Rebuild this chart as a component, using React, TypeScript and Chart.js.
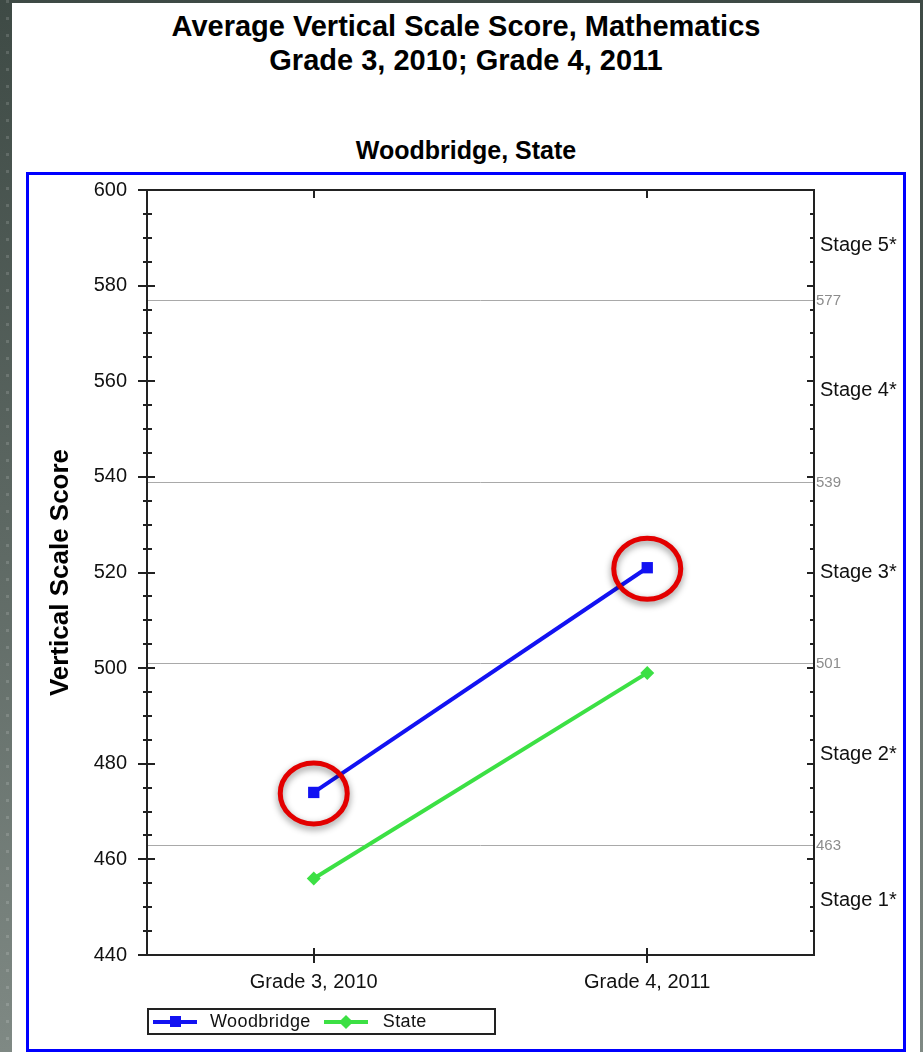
import React, { useEffect, useRef } from "react";
import { Chart, registerables } from "chart.js";

Chart.register(...registerables);

// ---------- data ----------
const categories = ["Grade 3, 2010", "Grade 4, 2011"];
const seriesNames = ["Woodbridge", "State"];
const woodbridgeScores = [474, 521];
const stateScores = [456, 499];
const highlightedPoints = [0, 1]; // Woodbridge points circled in red
const cutScores = [463, 501, 539, 577];
const stageLabels = ["Stage 1*", "Stage 2*", "Stage 3*", "Stage 4*", "Stage 5*"];
const yMin = 440;
const yMax = 600;
const yStep = 20;
const yMinorStep = 5;
const titleLines = ["Average Vertical Scale Score, Mathematics", "Grade 3, 2010; Grade 4, 2011"];
const subtitleText = "Woodbridge, State";
const yAxisTitle = "Vertical Scale Score";

// ---------- styles ----------
const FONT = "'Liberation Sans', Arial, Helvetica, sans-serif";
const BLUE = "#1212f2";
const GREEN = "#3ce044";
const seriesColors = [BLUE, GREEN];
const seriesMarkers = ["rect", "rectRot"];

const decorPlugin = {
  id: "decor",
  beforeDatasetsDraw(chart: any) {
    const { ctx, chartArea: a, scales } = chart;
    const y = scales.y;
    ctx.save();
    ctx.strokeStyle = "#a9a9a9";
    ctx.lineWidth = 1;
    cutScores.forEach((v) => {
      const py = Math.round(y.getPixelForValue(v)) + 0.5;
      ctx.beginPath();
      ctx.moveTo(a.left, py);
      ctx.lineTo(a.right, py);
      ctx.stroke();
    });
    ctx.restore();
  },
  afterDatasetsDraw(chart: any) {
    const { ctx, chartArea: a, scales } = chart;
    const y = scales.y;
    const x = scales.x;
    ctx.save();
    // frame
    ctx.strokeStyle = "#222";
    ctx.lineWidth = 2;
    ctx.strokeRect(a.left, a.top, a.right - a.left, a.bottom - a.top);
    // y ticks (left crossing, right inward)
    ctx.lineWidth = 2;
    for (let v = yMin; v <= yMax; v += yMinorStep) {
      const major = (v - yMin) % yStep === 0;
      const py = Math.round(y.getPixelForValue(v));
      ctx.beginPath();
      ctx.moveTo(a.left - (major ? 9 : 4), py);
      ctx.lineTo(a.left + (major ? 8 : 5), py);
      ctx.moveTo(a.right - (major ? 7 : 4), py);
      ctx.lineTo(a.right, py);
      ctx.stroke();
    }
    // x ticks at categories
    categories.forEach((_, i) => {
      const px = Math.round(x.getPixelForValue(i));
      ctx.beginPath();
      ctx.moveTo(px, a.bottom - 7);
      ctx.lineTo(px, a.bottom + 8);
      ctx.moveTo(px, a.top);
      ctx.lineTo(px, a.top + 8);
      ctx.stroke();
    });
    // cut score labels
    ctx.textBaseline = "middle";
    ctx.textAlign = "left";
    ctx.fillStyle = "#8c8c8c";
    ctx.font = `15px ${FONT}`;
    cutScores.forEach((v) => {
      ctx.fillText(String(v), a.right + 2, y.getPixelForValue(v) + 1);
    });
    // stage labels (centred in each band)
    const bounds = [yMin, ...cutScores, yMax];
    ctx.fillStyle = "#111";
    ctx.font = `20px ${FONT}`;
    stageLabels.forEach((s, i) => {
      const mid = (bounds[i] + bounds[i + 1]) / 2;
      ctx.fillText(s, a.right + 6, y.getPixelForValue(mid));
    });
    ctx.restore();
  },
  afterDraw(chart: any) {
    const { ctx } = chart;
    const meta = chart.getDatasetMeta(0);
    ctx.save();
    highlightedPoints.forEach((i) => {
      const el = meta.data[i];
      if (!el) return;
      ctx.save();
      ctx.shadowColor = "rgba(0,0,0,0.45)";
      ctx.shadowBlur = 7;
      ctx.shadowOffsetX = 0;
      ctx.shadowOffsetY = 3;
      ctx.strokeStyle = "#e30000";
      ctx.lineWidth = 5;
      ctx.beginPath();
      ctx.ellipse(el.x, el.y + 1, 33.5, 30.5, 0, 0, Math.PI * 2);
      ctx.stroke();
      ctx.restore();
    });
    ctx.restore();
  },
};

function LegendSwatch({ color, marker }: { color: string; marker: string }) {
  return (
    <div style={{ position: "relative", width: 44, height: 14, flex: "0 0 44px" }}>
      <div style={{ position: "absolute", left: 0, right: 0, top: 5, height: 4, background: color }} />
      {marker === "rect" ? (
        <div style={{ position: "absolute", left: 17, top: 1, width: 11, height: 11, background: color }} />
      ) : (
        <div
          style={{
            position: "absolute",
            left: 17,
            top: 2,
            width: 10,
            height: 10,
            background: color,
            transform: "rotate(45deg)",
          }}
        />
      )}
    </div>
  );
}

export default function App() {
  const canvasRef = useRef<HTMLCanvasElement | null>(null);

  useEffect(() => {
    if (!canvasRef.current) return;
    Chart.defaults.font.family = FONT;
    const datasets = [woodbridgeScores, stateScores].map((data, i) => ({
      label: seriesNames[i],
      data,
      borderColor: seriesColors[i],
      backgroundColor: seriesColors[i],
      borderWidth: 4,
      pointStyle: seriesMarkers[i] as any,
      pointRadius: i === 0 ? 8 : 7,
      pointBorderWidth: 0,
      pointBackgroundColor: seriesColors[i],
      tension: 0,
      fill: false,
    }));
    const chart = new Chart(canvasRef.current, {
      type: "line",
      data: { labels: categories, datasets },
      options: {
        animation: false,
        responsive: false,
        devicePixelRatio: 1,
        events: [],
        layout: { padding: { left: 30, top: 190, right: 109, bottom: 57 } },
        plugins: {
          legend: { display: false },
          tooltip: { enabled: false },
          title: { display: false },
        },
        scales: {
          x: {
            type: "category",
            offset: true,
            grid: { display: false, drawTicks: false },
            border: { display: false },
            ticks: { color: "#111", font: { size: 20 }, padding: 15, maxRotation: 0 },
            afterFit: (s: any) => {
              s.height = 40;
            },
          },
          y: {
            min: yMin,
            max: yMax,
            grid: { display: false, drawTicks: false },
            border: { display: false },
            ticks: { stepSize: yStep, color: "#111", font: { size: 20 }, padding: 20 },
            title: {
              display: true,
              text: yAxisTitle,
              color: "#000",
              font: { size: 26, weight: "bold" },
              padding: { top: 15, bottom: 0 },
            },
            afterFit: (s: any) => {
              s.width = 117;
            },
          },
        },
      },
      plugins: [decorPlugin],
    });
    return () => chart.destroy();
  }, []);

  return (
    <div
      style={{
        position: "fixed",
        left: 0,
        top: 0,
        width: 923,
        height: 1052,
        overflow: "hidden",
        background: "linear-gradient(to bottom, #3e4a45 0%, #5d6863 50%, #7f8984 100%)",
        fontFamily: FONT,
      }}
    >
      <div
        style={{
          position: "absolute",
          left: 6,
          top: 0,
          width: 3,
          height: 1052,
          background:
            "repeating-linear-gradient(to bottom, rgba(255,255,255,0.14) 0px, rgba(255,255,255,0.14) 3px, transparent 3px, transparent 17px)",
        }}
      />
      <div style={{ position: "absolute", left: 12, top: 3, width: 908, height: 1060, background: "#fff" }} />
      <div
        style={{
          position: "absolute",
          left: 12,
          top: 9,
          width: 908,
          textAlign: "center",
          fontWeight: "bold",
          fontSize: 29,
          lineHeight: "34px",
          color: "#000",
        }}
      >
        {titleLines.map((t) => (
          <div key={t}>{t}</div>
        ))}
      </div>
      <div
        style={{
          position: "absolute",
          left: 12,
          top: 138,
          width: 908,
          textAlign: "center",
          fontWeight: "bold",
          fontSize: 25,
          lineHeight: "24px",
          color: "#000",
        }}
      >
        {subtitleText}
      </div>
      <div
        style={{
          position: "absolute",
          left: 26,
          top: 172,
          width: 880,
          height: 880,
          boxSizing: "border-box",
          border: "3px solid #0000ff",
        }}
      />
      <canvas
        ref={canvasRef}
        width={923}
        height={1052}
        style={{ position: "absolute", left: 0, top: 0, width: 923, height: 1052 }}
      />
      <div
        style={{
          position: "absolute",
          left: 147,
          top: 1008,
          width: 349,
          height: 27,
          boxSizing: "border-box",
          border: "2px solid #222",
          display: "flex",
          alignItems: "center",
          paddingLeft: 4,
          fontSize: 18,
          color: "#111",
        }}
      >
        {seriesNames.map((name, i) => (
          <div key={name} style={{ display: "flex", alignItems: "center", marginRight: 13 }}>
            <LegendSwatch color={seriesColors[i]} marker={seriesMarkers[i]} />
            <span style={{ marginLeft: i === 0 ? 13 : 15, letterSpacing: 0.4 }}>{name}</span>
          </div>
        ))}
      </div>
    </div>
  );
}
